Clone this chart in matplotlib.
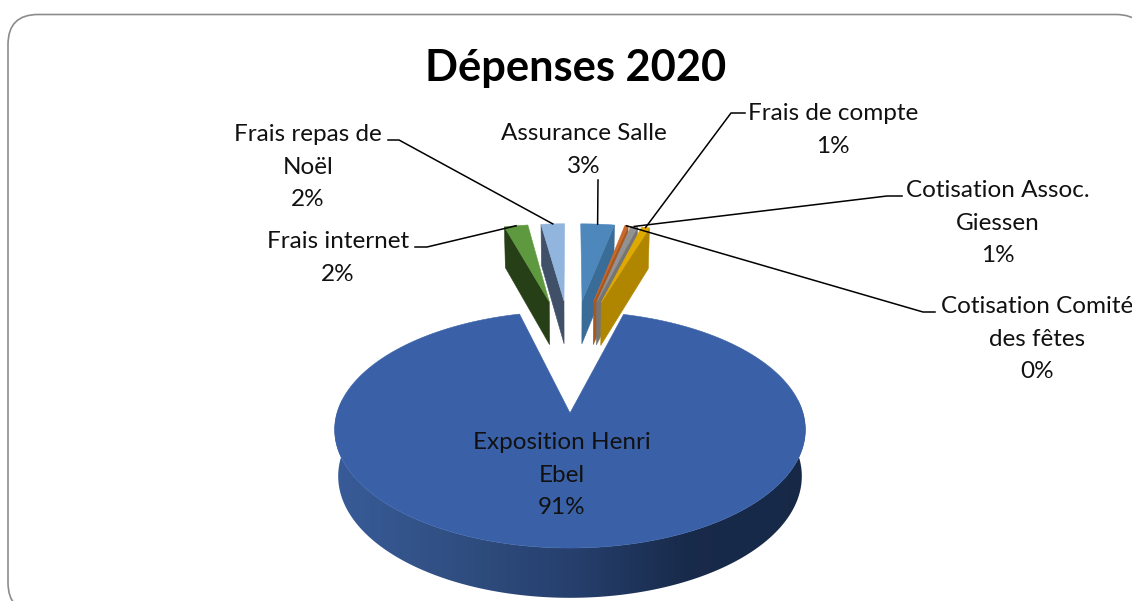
import numpy as np
import matplotlib
matplotlib.use('Agg')
import matplotlib.pyplot as plt
from matplotlib.patches import Polygon, FancyBboxPatch

# Dépenses 2020, parts en %, dans le sens horaire depuis le haut
names = ['Assurance Salle', 'Cotisation Comité des fêtes', 'Cotisation Assoc. Giessen',
         'Frais de compte', 'Exposition Henri Ebel', 'Frais internet', 'Frais repas de Noël']
values = [3.0, 0.3, 0.6, 0.7, 91.2, 2.1, 2.1]
top_colors = ['#4d87bb', '#c8692c', '#929292', '#e0a900', '#3a61a8', '#5f993f', '#92b5de']
side_colors = ['#3a6c98', '#a9561f', '#757575', '#b08600', '#2b4675', '#263f17', '#3f5068']
title = 'Dépenses 2020'

plt.rcParams['font.family'] = ['Lato', 'DejaVu Sans']
fig = plt.figure(figsize=(11.32, 6.01), dpi=100)
ax = fig.add_axes([0, 0, 1, 1])

# cadre arrondi
ax.add_patch(FancyBboxPatch((8, 14.5), 1138, 598, boxstyle='round,pad=0,rounding_size=30',
                            fc='white', ec='#8c8c8c', lw=1.2, zorder=0))

# projection de la tarte 3D (origine = pointe de la grande part)
x0, y0 = 570, 413
rx, ry, k = 233, 116, 0.141
depth, fx, fy = 46, 0.985, 1.028
explode = 0.56
widen_start, widen_end = 0.025, 0.015


def project(x, w, low=False):
    s = 1 / (1 + k * w)
    if low:
        return x0 + rx * x * s * fx, y0 - ry * w * s * fy + depth
    return x0 + rx * x * s, y0 - ry * w * s


total = sum(values)
edges = np.cumsum([0] + values) / total * 2 * np.pi
mids = (edges[:-1] + edges[1:]) / 2
main = names.index('Exposition Henri Ebel')
cx = -explode * np.sin(mids[main])
cw = -explode * np.cos(mids[main])


def arc(i, a, b, low=False, n=40):
    t = np.linspace(a, b, n)
    xs = cx + explode * np.sin(mids[i]) + np.sin(t)
    ws = cw + explode * np.cos(mids[i]) + np.cos(t)
    return [project(p, q, low) for p, q in zip(xs, ws)]


def apex(i, low=False):
    return project(cx + explode * np.sin(mids[i]), cw + explode * np.cos(mids[i]), low)


# flanc avant de la grande part : dégradé horizontal découpé sur le flanc
shade_x = [334, 450, 570, 690, 806]
shade_r = [0.22, 0.19, 0.15, 0.095, 0.09]
shade_g = [0.36, 0.31, 0.25, 0.165, 0.16]
shade_b = [0.60, 0.51, 0.43, 0.29, 0.28]
grad_x = np.arange(330, 811)
grad = np.dstack([np.interp(grad_x, shade_x, shade_r),
                  np.interp(grad_x, shade_x, shade_g),
                  np.interp(grad_x, shade_x, shade_b)])
wall = arc(main, np.pi * 0.45, np.pi * 1.55, n=200) + arc(main, np.pi * 1.55, np.pi * 0.45, True, n=200)
wall_patch = Polygon(wall, fc='none', ec='none', transform=ax.transData)
ax.add_patch(wall_patch)
im = ax.imshow(grad, extent=(330, 811, 610, 400), aspect='auto', zorder=1, interpolation='bilinear')
im.set_clip_path(wall_patch)

ax.add_patch(Polygon([apex(main)] + arc(main, edges[main] - widen_start, edges[main + 1] + widen_end, n=300),
                     fc=top_colors[main], ec=top_colors[main], lw=0.4, zorder=2))

# petites parts : face de coupe visible puis dessus
order = [5, 6, 0, 1, 2, 3]
for z, i in enumerate(order):
    edge = edges[i] if i > main else edges[i + 1]
    face = [arc(i, edge, edge, n=1)[0], apex(i), apex(i, True), arc(i, edge, edge, True, n=1)[0]]
    ax.add_patch(Polygon(face, fc=side_colors[i], ec=side_colors[i], lw=0.4, zorder=3 + z))
    ax.add_patch(Polygon([apex(i)] + arc(i, edges[i], edges[i + 1]),
                         fc=top_colors[i], ec=top_colors[i], lw=0.4, zorder=3 + z))

# étiquettes
fs = 17.5
labels = {
    6: ('Frais repas de\nNoël\n2%', 308, 167),
    5: ('Frais internet\n2%', 338, 258),
    0: ('Assurance Salle\n3%', 584, 150),
    3: ('Frais de compte\n1%', 833, 130),
    2: ('Cotisation Assoc.\nGiessen\n1%', 998, 223),
    1: ('Cotisation Comité\ndes fêtes\n0%', 1037, 339),
    4: ('Exposition Henri\nEbel\n91%', 562, 475),
}
for i, (txt, tx, ty) in labels.items():
    ax.text(tx, ty, txt, ha='center', va='center', fontsize=fs, linespacing=1.67, color='#111111', zorder=20)
ax.text(576, 68, title, ha='center', va='center', fontsize=31.2, fontweight='bold', color='black', zorder=20)

# traits de rappel
leaders = {
    6: [(388, 140), (399, 140)],
    5: [(415, 247), (427, 247)],
    0: [(598, 180)],
    3: [(745, 113), (731, 113)],
    2: [(902, 196), (887, 196)],
    1: [(935, 312), (923, 312)],
}
for i, pts in leaders.items():
    end = arc(i, mids[i], mids[i], n=1)[0]
    xs = [p[0] for p in pts] + [end[0]]
    ys = [p[1] for p in pts] + [end[1]]
    ax.plot(xs, ys, color='black', lw=1.1, zorder=15)

ax.set_xlim(0, 1132)
ax.set_ylim(601, 0)
ax.axis('off')
fig.savefig('out.png', dpi=100)
